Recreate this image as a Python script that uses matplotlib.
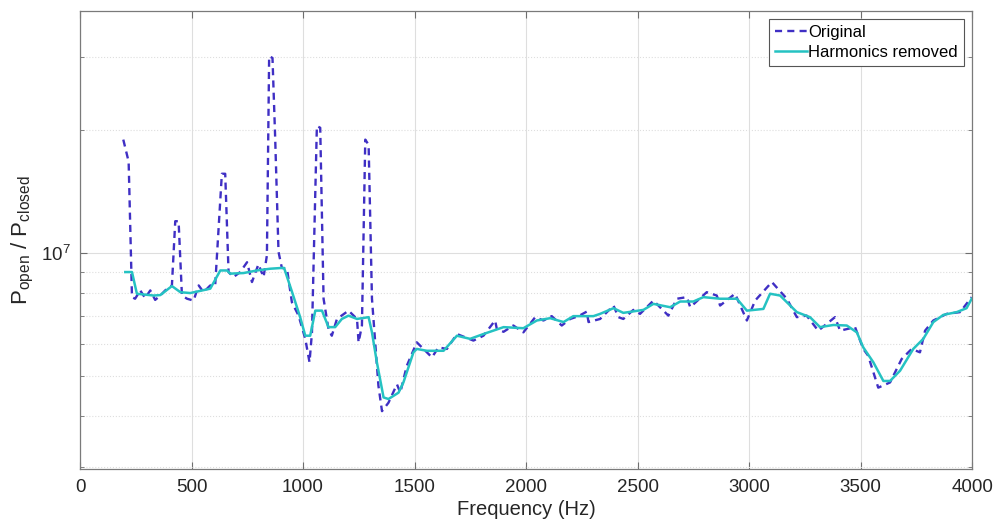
import matplotlib
matplotlib.use('Agg')
import matplotlib.pyplot as plt
from matplotlib.ticker import LogLocator, MultipleLocator, NullFormatter

plt.rcParams['font.family'] = ['Liberation Sans', 'DejaVu Sans']
plt.rcParams['mathtext.default'] = 'regular'

# original spectrum ratio (values in units of 1e6)
freq_orig = [194, 218, 233, 247, 270, 292, 315, 337, 360, 382, 412, 427, 442, 457,
             480, 509, 532, 554, 584, 606, 636, 651, 666, 688, 718, 749, 771, 800,
             823, 838, 848, 863, 875, 890, 905, 928, 950, 980, 1010, 1029, 1040,
             1062, 1077, 1092, 1114, 1129, 1152, 1204, 1242, 1249, 1264, 1279,
             1294, 1309, 1338, 1354, 1383, 1421, 1436, 1465, 1510, 1525, 1578,
             1607, 1645, 1690, 1764, 1809, 1861, 1869, 1899, 1943, 1988, 2041,
             2078, 2115, 2160, 2198, 2235, 2272, 2280, 2332, 2392, 2414, 2436,
             2481, 2511, 2571, 2638, 2676, 2721, 2736, 2810, 2855, 2870, 2937,
             2990, 3027, 3102, 3169, 3214, 3258, 3310, 3385, 3408, 3475, 3512,
             3534, 3579, 3632, 3684, 3729, 3766, 3789, 3826, 3886, 3946, 3998]
vals_orig = [18.9, 16.7, 7.8, 7.73, 8.1, 7.76, 8.1, 7.68, 7.87, 8.1, 8.33, 11.95,
             11.95, 7.87, 7.73, 7.65, 8.33, 8.02, 8.33, 8.33, 15.6, 15.6, 8.98,
             8.73, 8.98, 9.49, 8.49, 9.38, 8.73, 9.87, 30.2, 29.9, 19.1, 10.06,
             9.19, 9.15, 7.58, 7.03, 6.17, 5.41, 6.40, 20.4, 20.2, 7.73, 6.52,
             6.28, 6.90, 7.23, 6.90, 6.05, 6.65, 18.9, 18.35, 7.73, 4.74, 4.11,
             4.31, 4.78, 4.56, 5.30, 6.05, 5.94, 5.56, 5.88, 5.83, 6.34, 6.11,
             6.28, 6.84, 6.52, 6.42, 6.65, 6.40, 6.97, 6.84, 7.01, 6.65, 6.90,
             7.01, 7.19, 6.78, 6.90, 7.44, 6.97, 6.90, 7.26, 7.10, 7.65, 7.03,
             7.73, 7.80, 7.37, 8.02, 7.87, 7.44, 7.95, 6.84, 7.65, 8.49, 7.73,
             6.97, 7.03, 6.46, 6.97, 6.46, 6.59, 5.83, 5.61, 4.69, 4.83, 5.51,
             5.83, 5.72, 6.46, 6.84, 7.10, 7.17, 7.80]

# after harmonic removal
freq_clean = [203, 233, 255, 330, 360, 412, 450, 494, 584, 629, 659, 674, 733, 793,
              853, 905, 915, 950, 987, 1010, 1032, 1055, 1085, 1114, 1144, 1174,
              1204, 1242, 1294, 1309, 1331, 1361, 1383, 1428, 1450, 1495, 1510,
              1555, 1630, 1690, 1749, 1809, 1899, 1988, 2048, 2108, 2168, 2212,
              2302, 2332, 2392, 2436, 2526, 2571, 2646, 2691, 2750, 2795, 2870,
              2945, 2990, 3064, 3094, 3139, 3214, 3273, 3318, 3378, 3438, 3483,
              3512, 3557, 3602, 3632, 3677, 3736, 3781, 3826, 3871, 3931, 3975,
              3998]
vals_clean = [8.98, 8.98, 7.95, 7.87, 7.89, 8.30, 8.02, 7.98, 8.18, 9.06, 9.06,
              8.90, 8.93, 9.06, 9.15, 9.19, 9.19, 8.05, 6.97, 6.28, 6.28, 7.23,
              7.23, 6.59, 6.59, 6.90, 7.03, 6.90, 6.97, 6.40, 5.41, 4.44, 4.40,
              4.56, 4.83, 5.72, 5.83, 5.77, 5.77, 6.28, 6.17, 6.34, 6.59, 6.55,
              6.84, 6.93, 6.78, 7.01, 7.01, 7.10, 7.33, 7.14, 7.26, 7.51, 7.37,
              7.61, 7.61, 7.80, 7.73, 7.73, 7.23, 7.30, 7.95, 7.87, 7.17, 6.97,
              6.59, 6.67, 6.65, 6.40, 5.88, 5.41, 4.87, 4.87, 5.16, 5.83, 6.17,
              6.78, 7.06, 7.17, 7.33, 7.73]

orig = [v * 1e6 for v in vals_orig]
clean = [v * 1e6 for v in vals_clean]

fig = plt.figure(figsize=(9.94, 5.26), dpi=100)
ax = fig.add_axes([0.0805, 0.1084, 0.8975, 0.8713])

ax.plot(freq_orig, orig, linestyle='--', color='#3f2fc4', lw=1.7,
        dashes=(3.0, 2.2), label='Original')
ax.plot(freq_clean, clean, color='#25c2c2', lw=1.8, label='Harmonics removed')

ax.set_yscale('log')
ax.set_xlim(0, 4000)
ax.set_ylim(2.97e6, 3.9e7)
ax.xaxis.set_major_locator(MultipleLocator(500))
ax.yaxis.set_major_locator(LogLocator(base=10))
ax.yaxis.set_minor_locator(LogLocator(base=10, subs=range(2, 10)))
ax.yaxis.set_minor_formatter(NullFormatter())

ax.grid(True, which='major', color='#dedede', lw=0.8)
ax.grid(True, which='minor', axis='y', color='#dedede', lw=0.8, linestyle=':')
ax.set_axisbelow(True)

ax.tick_params(which='both', direction='in', top=True, right=True,
               labelsize=13.5, color='#6e6e6e', labelcolor='#262626', pad=7)
ax.tick_params(which='major', length=5)
ax.tick_params(which='minor', length=3)
for sp in ax.spines.values():
    sp.set_color('#7a7a7a')
    sp.set_linewidth(0.9)

ax.set_xlabel('Frequency (Hz)', fontsize=14.5, color='#262626', labelpad=3)
ax.set_ylabel('$P_{open}$ / $P_{closed}$', fontsize=16, color='#262626', labelpad=3)

leg = ax.legend(loc='upper right', fontsize=12, fancybox=False, framealpha=1,
                edgecolor='#555555', borderpad=0.35, handlelength=1.9,
                handletextpad=0.1, labelspacing=0.3, borderaxespad=0.5)
leg.get_frame().set_linewidth(0.8)

fig.savefig('out.png', dpi=100)
